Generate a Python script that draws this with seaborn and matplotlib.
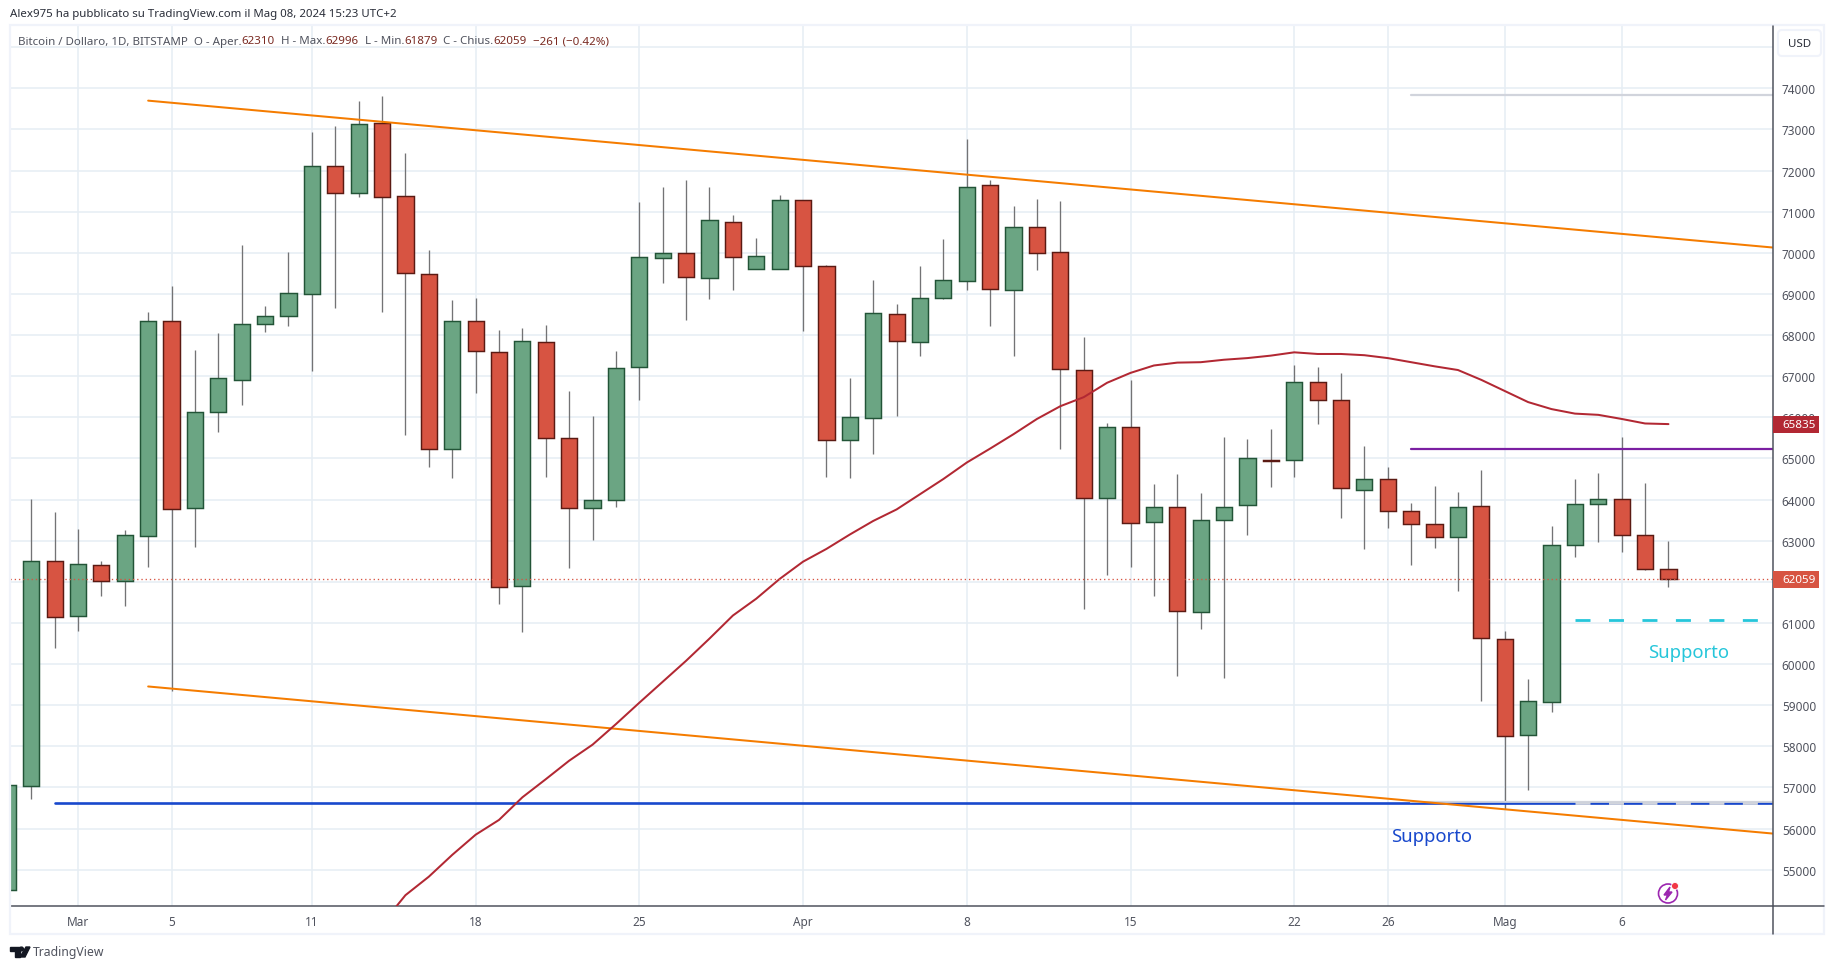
# btc_daily_chart.py
# Bitcoin / Dollaro daily candles with trend lines and support levels.

import pandas as pd
import matplotlib
matplotlib.use("Agg")
import matplotlib.pyplot as plt
from matplotlib.patches import Rectangle, Ellipse, Polygon, FancyBboxPatch
from matplotlib.lines import Line2D
from matplotlib.transforms import IdentityTransform
import seaborn as sns

W, H = 1835, 970

# -----------------------------------------------------------------------------
# Values, one candle per day from 27 Feb 2024.
# -----------------------------------------------------------------------------
dates = pd.date_range("2024-02-27", "2024-05-08").tolist()
opens = [54500, 57040, 62510, 61167, 62415, 62025, 63115, 68340, 63800, 66120,
         66900, 68270, 68460, 69000, 72100, 71460, 73155, 71390, 69490, 65240,
         68340, 67590, 61900, 67830, 65490, 63800, 64000, 67220, 69880, 70000,
         69390, 70760, 69610, 69610, 71290, 69680, 65460, 65990, 68510, 67830,
         68900, 69320, 71640, 69100, 70630, 70020, 67150, 64030, 65760, 63460,
         63810, 61260, 63510, 63860, 64960, 64950, 66850, 66410, 64240, 64510,
         63730, 63415, 63090, 63850, 60610, 58270, 59070, 62900, 63900, 64020,
         63150, 62310]
closes = [57070, 62510, 61150, 62440, 62025, 63150, 68340, 63780, 66120, 66950,
          68270, 68460, 69020, 72120, 71460, 73120, 71360, 69510, 65240, 68340,
          67610, 61880, 67850, 65490, 63800, 64000, 67200, 69900, 70000, 69415,
          70800, 69900, 69930, 71290, 69680, 65460, 66000, 68540, 67850, 68900,
          69340, 71610, 69120, 70630, 70000, 67170, 64050, 65760, 63430, 63830,
          61290, 63510, 63810, 65000, 64940, 66850, 66430, 64270, 64510, 63730,
          63415, 63090, 63830, 60630, 58240, 59100, 62900, 63900, 64020, 63150,
          62320, 62059]
highs = [57500, 64010, 63690, 63280, 62500, 63260, 68560, 69200, 67640, 68050,
         70190, 68700, 70010, 72935, 73080, 73690, 73810, 72420, 70080, 68860,
         68910, 68130, 68160, 68250, 66650, 66030, 67620, 71230, 71600, 71770,
         71590, 70930, 70350, 71400, 71290, 69710, 66960, 69330, 68760, 69690,
         70330, 72760, 71770, 71150, 71300, 71250, 67950, 65860, 66910, 64370,
         64630, 64170, 65520, 65470, 65710, 67260, 67230, 67080, 65300, 64800,
         63910, 64320, 64180, 64720, 60810, 59640, 63350, 64500, 64640, 65520,
         64400, 62996]
lows = [54400, 56715, 60380, 60810, 61650, 61420, 62370, 59350, 62850, 65640,
        66290, 68070, 68210, 67130, 68650, 71360, 68560, 65560, 64790, 64520,
        66590, 61470, 60780, 64550, 62330, 63010, 63820, 66430, 69260, 68370,
        68870, 69090, 69600, 69600, 68090, 64550, 64520, 65110, 66020, 67480,
        68870, 69090, 68210, 67480, 69580, 65240, 61330, 62160, 62360, 61660,
        59700, 60850, 59660, 63140, 64310, 64550, 65840, 63540, 62790, 63300,
        62400, 62810, 61780, 59090, 56470, 56940, 58840, 62600, 62970, 62730,
        62280, 61879]

# Simple moving average, starts on 14 March.
ma_dates = pd.date_range("2024-03-14", "2024-05-08").tolist()
ma_values = [53680, 54380, 54830, 55360, 55850, 56210, 56760, 57200, 57650,
             58040, 58540, 59060, 59570, 60080, 60620, 61180, 61590, 62070,
             62490, 62800, 63150, 63480, 63760, 64130, 64500, 64900, 65240,
             65590, 65960, 66270, 66490, 66840, 67080, 67260, 67330, 67340,
             67400, 67440, 67500, 67580, 67540, 67540, 67510, 67440, 67340,
             67240, 67150, 66910, 66640, 66370, 66200, 66090, 66060, 65960,
             65850, 65835]

# Drawn lines: start/end dates and prices.
right_edge = pd.Timestamp("2024-03-01") + pd.Timedelta(days=72.47)
left_edge = pd.Timestamp("2024-03-01") - pd.Timedelta(days=2.907)
upper_x = [pd.Timestamp("2024-03-04"), right_edge]
upper_y = [73700, 70128]
lower_x = [pd.Timestamp("2024-03-04"), right_edge]
lower_y = [59455, 55878]
blue_x = [pd.Timestamp("2024-02-29"), right_edge]
blue_y = [56620, 56620]
grey_x = [pd.Timestamp("2024-04-27"), right_edge]
grey_top_y = [73840, 73840]
grey_low_y = [56650, 56650]
purple_y = [65230, 65230]
dash_x = [pd.Timestamp("2024-05-04"), right_edge]
cyan_y = [61070, 61070]
grey_dash_y = [56620, 56620]

price_ticks = list(range(55000, 76000, 1000))
price_labels = [str(p) for p in price_ticks[:-1]] + [""]
time_ticks = ["2024-03-01", "2024-03-05", "2024-03-11", "2024-03-18", "2024-03-25",
              "2024-04-01", "2024-04-08", "2024-04-15", "2024-04-22", "2024-04-26",
              "2024-05-01", "2024-05-06"]
time_labels = ["Mar", "5", "11", "18", "25", "Apr", "8", "15", "22", "26", "Mag", "6"]

UP, UP_EDGE = "#6ba583", "#225437"
DOWN, DOWN_EDGE = "#d75442", "#5b1a13"
WICK = "#737375"
GRID = "#e6eef4"
AXIS = "#50535e"
LABEL = "#50535e"
VALUE = "#7a2a22"

sns.set_theme(style="white")
plt.rcParams["font.family"] = ["Noto Sans", "DejaVu Sans"]

fig = plt.figure(figsize=(W / 100, H / 100), dpi=100, facecolor="white")
ax = fig.add_axes([10 / W, 1 - 907 / H, 1763 / W, 880 / H])


def fx(x):
    return x / W


def fy(y):
    return 1 - y / H


df = pd.DataFrame(dict(date=dates, open=opens, close=closes, high=highs, low=lows))
df["up"] = df.close >= df.open
df["bottom"] = df[["open", "close"]].min(axis=1)
df["top"] = df[["open", "close"]].max(axis=1)

# Grid under everything.
ax.set_axisbelow(True)
ax.set_yticks(price_ticks)
ax.set_yticklabels(price_labels)
ax.set_xticks(pd.to_datetime(time_ticks))
ax.set_xticklabels(time_labels)
ax.grid(True, color=GRID, lw=1.1)

# Candles.
ax.vlines(df.date, df.low, df.high, color=WICK, lw=0.95, zorder=2)
for is_up, face, edge in [(True, UP, UP_EDGE), (False, DOWN, DOWN_EDGE)]:
    part = df[df.up == is_up]
    ax.bar(part.date, part.top - part.bottom, bottom=part.bottom, width=0.69,
           color=face, edgecolor=edge, linewidth=1.05, zorder=3)


def level(x, y, color, lw, zorder=4):
    sns.lineplot(x=x, y=y, color=color, ax=ax, lw=lw, zorder=zorder,
                 estimator=None, legend=False)


# Moving average and drawn lines.
level(ma_dates, ma_values, "#b22833", 1.45, zorder=5)
level(blue_x, blue_y, "#1848cc", 1.9, zorder=4)
level(grey_x, grey_low_y, "#d1d4dc", 1.6, zorder=4.2)
ax.plot(grey_x, blue_y, color="#1848cc", lw=0.9, zorder=4.3)
level(grey_x, grey_top_y, "#d1d4dc", 1.6, zorder=4)
level(grey_x, purple_y, "#7b1fa2", 1.6, zorder=4)
for y_vals, col in [(cyan_y, "#26c6da"), (grey_dash_y, "#d1d4dc")]:
    ax.plot(dash_x, y_vals, color=col, lw=2.0, dashes=(5.4, 6.65),
            dash_capstyle="butt", zorder=4.4)
level(upper_x, upper_y, "#f57c00", 1.45, zorder=4.6)
level(lower_x, lower_y, "#f57c00", 1.45, zorder=4.6)

# Last price dotted line.
ax.axhline(62059, color=DOWN, lw=0.95, ls=(0, (1, 2.2)), zorder=6)

ax.set_xlim(left_edge, right_edge)
ax.set_ylim(54117, 75515)
ax.set_xlabel("")
ax.set_ylabel("")
ax.yaxis.tick_right()
ax.tick_params(axis="y", length=0, pad=6.3, labelsize=8.5, labelcolor=LABEL)
ax.tick_params(axis="x", length=0, pad=6.5, labelsize=8.5, labelcolor=LABEL)
for name, spine in ax.spines.items():
    spine.set_visible(name == "bottom")
    spine.set_color(AXIS)
    spine.set_linewidth(1.1)

# Frame around the chart and extended axis lines.
fig.add_artist(Rectangle((fx(10), fy(935)), 1814 / W, 909 / H, transform=fig.transFigure,
                         fill=False, edgecolor="#f0f3fa", lw=1.6, zorder=1))
fig.add_artist(Line2D([fx(1773), fx(1773)], [fy(27), fy(935)], color=AXIS, lw=1.1, zorder=1))
fig.add_artist(Line2D([fx(1773), fx(1824)], [fy(907), fy(907)], color=AXIS, lw=1.1, zorder=1))

# Header text.
fig.text(fx(10), fy(15), "Alex975 ha pubblicato su TradingView.com il Mag 08, 2024 15:23 UTC+2",
         fontsize=8.25, color="#2a2e39", va="center", ha="left")

legend_parts = [("Bitcoin / Dollaro, 1D, BITSTAMP\u00a0\u00a0O - Aper.", LABEL), ("62310", VALUE),
                ("\u00a0\u00a0H - Max.", LABEL), ("62996", VALUE), ("\u00a0\u00a0L - Min.", LABEL),
                ("61879", VALUE), ("\u00a0\u00a0C - Chius.", LABEL), ("62059", VALUE),
                ("\u00a0\u00a0\u2212261 (\u22120.42%)", VALUE)]
renderer = fig.canvas.get_renderer()
cursor = 18
for part, col in legend_parts:
    t = fig.text(fx(cursor), fy(42), part, fontsize=8.3, color=col, va="center", ha="left")
    cursor = t.get_window_extent(renderer).x1

# USD box.
fig.add_artist(FancyBboxPatch((1778, H - 57), 43, 26, boxstyle="round,pad=0,rounding_size=4",
                              transform=IdentityTransform(), facecolor="white",
                              edgecolor="#f0f3fa", lw=1.5, zorder=2))
fig.text(fx(1799.5), fy(44.5), "USD", fontsize=8.3, color="#2a2e39", ha="center", va="center")

# Price tags over the axis labels.
for price, y0, y1, col in [("65835", 417, 434, "#b22833"), ("62059", 572, 589, DOWN)]:
    fig.add_artist(Rectangle((fx(1773), fy(y1)), 46 / W, (y1 - y0) / H, transform=fig.transFigure,
                             facecolor=col, edgecolor="none", zorder=2))
    fig.text(fx(1782), fy((y0 + y1) / 2), price, fontsize=8.4, color="white", ha="left",
             va="center", fontweight="bold")

# Annotations.
fig.text(fx(1391), fy(837), "Supporto", fontsize=13.3, color="#1848cc", ha="left", va="center")
fig.text(fx(1648), fy(653), "Supporto", fontsize=13.3, color="#26c6da", ha="left", va="center")

# Bottom logo.
logo_shapes = [[(10, 948), (20, 948), (20, 958), (15, 958), (15, 952), (10, 952)],
               [(26, 948), (30, 948), (25, 958), (20, 958)]]
for shape in logo_shapes:
    fig.add_artist(Polygon([(fx(a), fy(b)) for a, b in shape], closed=True, color="#131722",
                           transform=fig.transFigure, zorder=2))
fig.add_artist(Ellipse((fx(21.5), fy(950)), 3.8 / W, 3.8 / H, color="#131722",
                       transform=fig.transFigure, zorder=2))
fig.text(fx(33), fy(953), "TradingView", fontsize=8.8, color="#50535e", ha="left", va="center")

# Lightning badge near the last candle.
fig.add_artist(Ellipse((fx(1668), fy(894.5)), 19 / W, 19 / H, fill=False, edgecolor="#9c27b0",
                       lw=1.2, transform=fig.transFigure, zorder=2))
bolt = [(1670, 888), (1664, 896), (1667.5, 896), (1665.5, 901), (1672, 893), (1668.5, 893)]
fig.add_artist(Polygon([(fx(a), fy(b)) for a, b in bolt], closed=True, color="#9c27b0",
                       transform=fig.transFigure, zorder=2))
fig.add_artist(Ellipse((fx(1675), fy(887)), 7 / W, 7 / H, facecolor="#f23645", edgecolor="white",
                       lw=0.6, transform=fig.transFigure, zorder=3))

fig.savefig("out.png", dpi=100, facecolor="white")
